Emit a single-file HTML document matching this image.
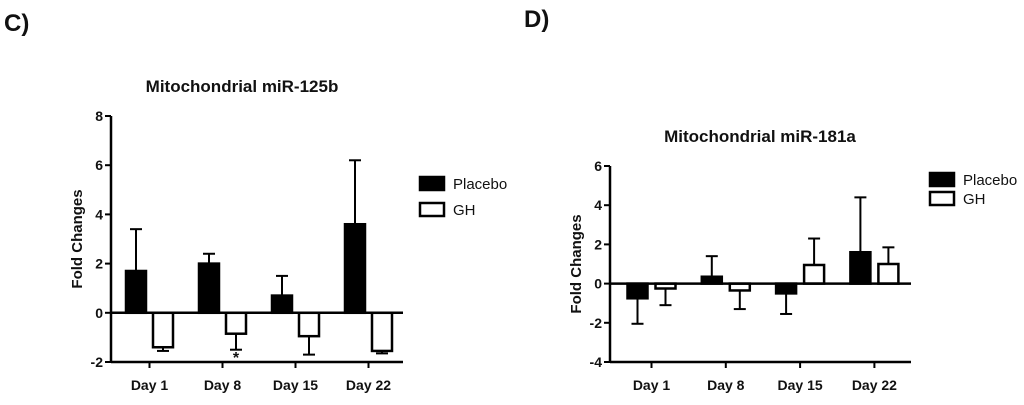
<!DOCTYPE html>
<html><head><meta charset="utf-8"><style>
body{margin:0;background:#fff;}
svg text{font-family:"Liberation Sans",Arial,sans-serif;fill:#111;}
</style></head><body>
<svg id="s" width="1024" height="400" xmlns="http://www.w3.org/2000/svg">
<text x="4" y="31" font-size="24" font-weight="bold">C)</text>
<text x="524" y="27" font-size="24" font-weight="bold">D)</text>
</svg>
<script>
const categories = ["Day 1","Day 8","Day 15","Day 22"];
const cPlacebo = [1.7, 2.0, 0.7, 3.6];
const cPlaceboErr = [1.7, 0.4, 0.8, 2.6];
const cGH = [-1.4, -0.85, -0.95, -1.55];
const cGHErr = [0.15, 0.65, 0.75, 0.1];
const cTicks = [-2, 0, 2, 4, 6, 8];
const dPlacebo = [-0.75, 0.35, -0.5, 1.6];
const dPlaceboErr = [1.3, 1.05, 1.05, 2.8];
const dGH = [-0.25, -0.35, 0.95, 1.0];
const dGHErr = [0.85, 0.95, 1.35, 0.85];
const dTicks = [-4, -2, 0, 2, 4, 6];

const NS="http://www.w3.org/2000/svg", svg=document.getElementById('s');
function mk(tag, attrs, parent){const e=document.createElementNS(NS,tag);for(const k in attrs)e.setAttribute(k,attrs[k]);(parent||svg).appendChild(e);return e;}

function chart(o){
  const g=mk('g',{});
  
  
  const y=v=>o.y0+(v-o.ymin)*(o.y1-o.y0)/(o.ymax-o.ymin);
  const tick=i=>o.tx0+i*o.tstep;
  const t=mk('text',{x:o.titleX,y:o.titleY,'font-size':17,'font-weight':'bold','text-anchor':'middle'},g);
  t.textContent=o.title;
  
  
  const yt=mk('text',{x:0,y:0,'font-size':15,'font-weight':'bold','text-anchor':'middle',transform:`translate(${o.ax-29},${(o.y0+o.y1)/2}) rotate(-90)`},g);
  yt.textContent='Fold Changes';
  
  
  mk('line',{x1:o.ax,x2:o.ax,y1:y(o.ymin)+1,y2:y(o.ymax),stroke:'#000','stroke-width':2.5},g);
  o.ticks.forEach(v=>{
    mk('line',{x1:o.ax-6,x2:o.ax,y1:y(v),y2:y(v),stroke:'#000','stroke-width':2},g);
    const l=mk('text',{x:o.ax-8,y:y(v)+5,'font-size':14,'font-weight':'bold','text-anchor':'end'},g);
    l.textContent=v;
    
    
  });
  mk('line',{x1:o.ax,x2:o.axEnd,y1:y(o.ymin),y2:y(o.ymin),stroke:'#000','stroke-width':2.5},g);
  categories.forEach((c,i)=>{
    const cx=tick(i);
    mk('line',{x1:cx,x2:cx,y1:y(o.ymin),y2:y(o.ymin)+6,stroke:'#000','stroke-width':2},g);
    const l=mk('text',{x:cx,y:390,'font-size':14,'font-weight':'bold','text-anchor':'middle'},g);
    l.textContent=c;
    
    
    [[o.p[i],o.pe[i],'#000',-1],[o.gh[i],o.ghe[i],'#fff',1]].forEach(([v,e,fill,side])=>{
      const x0 = side<0 ? cx-o.bw-o.gap/2 : cx+o.gap/2;
      const xm=x0+o.bw/2;
      const end=v+(v>=0?e:-e);
      mk('line',{x1:xm,x2:xm,y1:y(v),y2:y(end),stroke:'#000','stroke-width':2},g);
      mk('line',{x1:xm-6,x2:xm+6,y1:y(end),y2:y(end),stroke:'#000','stroke-width':2},g);
      const r=mk('rect',{x:x0,y:Math.min(y(0),y(v)),width:o.bw,height:Math.abs(y(v)-y(0)),fill:fill,stroke:'#000','stroke-width':2.5},g);
      
      
    });
  });
  mk('line',{x1:o.ax,x2:o.axEnd,y1:y(0),y2:y(0),stroke:'#000','stroke-width':2.5},g);
  if(o.star){const s=mk('text',{x:tick(1)+o.gap/2+o.bw/2,y:y(o.ymin)+1,'font-size':16,'font-weight':'bold','text-anchor':'middle'},g);s.textContent='*';
    
    }
  [['Placebo','#000',0],['GH','#fff',1]].forEach(([n,f,i])=>{
    const ly=o.legY+i*o.legStep;
    const lg=mk('g',{},g);
    
    
    mk('rect',{x:o.legX,y:ly,width:24,height:13,fill:f,stroke:'#000','stroke-width':2.5},lg);
    const tx=mk('text',{x:o.legX+33,y:ly+12,'font-size':15},lg);tx.textContent=n;
  });
}
chart({name:'chart-mir-125b',title:'Mitochondrial miR-125b',titleX:242,titleY:92,ax:111,axEnd:403,ymin:-2,ymax:8,y0:362,y1:116,ticks:cTicks,tx0:149.5,tstep:73,bw:20,gap:7,p:cPlacebo,pe:cPlaceboErr,gh:cGH,ghe:cGHErr,legX:420,legY:177,legStep:26,star:true});
chart({name:'chart-mir-181a',title:'Mitochondrial miR-181a',titleX:760,titleY:142,ax:610,axEnd:911,ymin:-4,ymax:6,y0:362,y1:166,ticks:dTicks,tx0:651.5,tstep:74.3,bw:20,gap:8,p:dPlacebo,pe:dPlaceboErr,gh:dGH,ghe:dGHErr,legX:930,legY:173,legStep:19,star:false});
</script>
</body></html>
